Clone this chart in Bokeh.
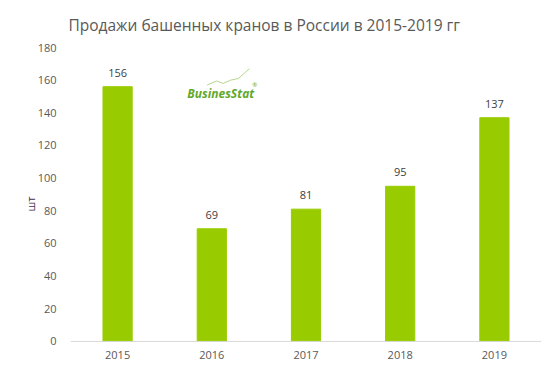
from bokeh.plotting import figure
from bokeh.models import ColumnDataSource, LabelSet, Label, Range1d, FactorRange, Title, Span
from bokeh.embed import file_html
from bokeh.resources import INLINE
from bokeh.core.properties import value

years = ["2015", "2016", "2017", "2018", "2019"]
sales = [156, 69, 81, 95, 137]
y_ticks = [0, 20, 40, 60, 80, 100, 120, 140, 160, 180]

src = ColumnDataSource(dict(x=years, y=sales, lbl=[str(v) for v in sales],
                            zero=[0] * len(years)))

p = figure(width=548, height=364, x_range=FactorRange(*years), y_range=Range1d(-11.67, 180),
           output_backend="svg", toolbar_location=None,
           min_border_left=70, min_border_right=7, min_border_bottom=4, min_border_top=12)
p.title = Title(text="Продажи башенных кранов в России в 2015-2019 гг", align="left", offset=-2,
                text_font="Open Sans", text_font_size="15.5px", text_color="#595959",
                text_font_style="normal", standoff=23)
p.outline_line_color = None
p.grid.grid_line_color = None
p.x_range.range_padding = 0
p.xaxis.visible = False

p.vbar(x="x", top="y", width=0.31, source=src, color="#99cc00")
p.add_layout(Span(location=0, dimension="width", line_color="#d9d9d9", line_width=1))

p.add_layout(LabelSet(x="x", y="y", text="lbl", source=src, y_offset=10, text_align="center",
                      text_baseline="bottom", text_font=value("Open Sans"),
                      text_font_size=value("11px"), text_color=value("#404040")))

# category labels below the axis line
p.add_layout(LabelSet(x="x", y="zero", text="x", source=src, y_offset=-14, text_align="center",
                      text_baseline="middle", text_font=value("Open Sans"),
                      text_font_size=value("11px"), text_color=value("#595959")))

p.yaxis.ticker = y_ticks
p.yaxis.axis_line_color = None
p.yaxis.major_tick_line_color = None
p.yaxis.minor_tick_line_color = None
p.yaxis.major_label_text_font = "Open Sans"
p.yaxis.major_label_text_font_size = "11px"
p.yaxis.major_label_text_color = "#595959"
p.yaxis.major_label_standoff = 8
p.yaxis.axis_label = "шт"
p.yaxis.axis_label_text_font = "Open Sans"
p.yaxis.axis_label_text_font_size = "11px"
p.yaxis.axis_label_text_font_style = "normal"
p.yaxis.axis_label_text_color = "#403152"
p.yaxis.axis_label_standoff = -3

# logo
p.add_layout(Label(x=1.24, y=152, text="BusinesStat", text_font="Open Sans",
                   text_font_size="12px", text_font_style="bold italic", text_color="#62a82a",
                   text_baseline="middle"))
p.add_layout(Label(x=1.93, y=157, text="®", text_font="Open Sans",
                   text_font_size="6px", text_color="#62a82a", text_baseline="middle"))
p.line(x=[1.45, 1.55, 1.62, 1.7, 1.78, 1.9], y=[157, 159.5, 158, 160, 161, 167],
       line_color="#b5d88a", line_width=1)

open("out.html", "w").write(file_html(p, INLINE))
